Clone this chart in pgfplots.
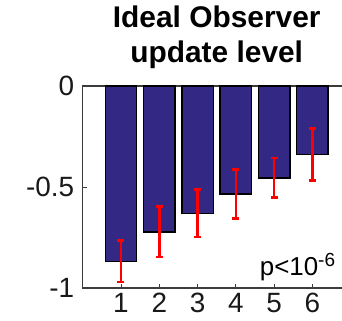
\documentclass[border=0pt]{standalone}
\usepackage{pgfplots}
\pgfplotsset{compat=1.18}
\usepackage{fontspec}
\setmainfont{Liberation Sans}
\definecolor{barblue}{RGB}{51,41,133}
\definecolor{axisgray}{RGB}{60,60,60}

\begin{document}
\begin{tikzpicture}[x=1bp,y=1bp]
% visible page area
\path[use as bounding box] (-82.7,-33) rectangle (259.3,288);
\clip (-82.7,-33) rectangle (259.3,288);
\begin{axis}[
  at={(0,0)}, anchor=south west,
  scale only axis, width=268bp, height=202bp,
  xmin=0, xmax=7, ymin=-1, ymax=0,
  xtick={1,2,3,4,5,6},
  ytick={-1,-0.5,0},
  yticklabels={-1,-0.5,0},
  /pgf/number format/assume math mode=true,
  tick label style={font=\fontsize{28}{28}\selectfont, text=black!90},
  xticklabel style={yshift=-2bp},
  yticklabel style={xshift=-5bp},
  tick align=inside,
  major tick length=4bp,
  axis line style={axisgray, line width=1.2bp},
  every tick/.style={axisgray, line width=0.8bp},
  clip=false,
  xtick pos=bottom, ytick pos=left,
]
\addplot[ybar, bar width=0.82, fill=barblue, draw=black, line width=1.4bp,
  error bars/.cd, y dir=both, y explicit,
  error bar style={red, line width=2.6bp},
  error mark options={red, line width=2.6bp, mark size=3.5bp, rotate=90}]
  coordinates {
  (1,-0.868) +- (0,0.103)
  (2,-0.722) +- (0,0.125)
  (3,-0.630) +- (0,0.118)
  (4,-0.534) +- (0,0.121)
  (5,-0.455) +- (0,0.098)
  (6,-0.339) +- (0,0.128)
  };
\node[anchor=base, font=\bfseries\fontsize{30}{30}\selectfont]
  at ([yshift=58bp]rel axis cs:0.5,1) {Ideal Observer};
\node[anchor=base, font=\bfseries\fontsize{30}{30}\selectfont]
  at ([yshift=23bp]rel axis cs:0.5,1) {update level};
\node[anchor=base west, inner sep=0pt, font=\fontsize{26}{26}\selectfont]
  at ([xshift=177bp, yshift=13bp]rel axis cs:0,0) {p<10\textsuperscript{\fontsize{19}{19}\selectfont -6}};
\end{axis}
\end{tikzpicture}
\end{document}
